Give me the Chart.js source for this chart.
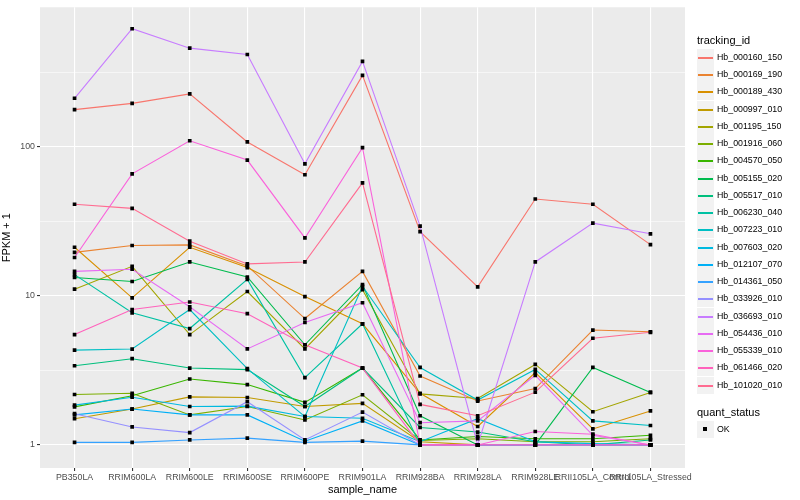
<!DOCTYPE html>
<html>
<head>
<meta charset="utf-8">
<script src="https://cdn.jsdelivr.net/npm/chart.js@4.4.0/dist/chart.umd.min.js"></script>
<style>
  body { margin: 0; background: #fff; font-family: "Liberation Sans", Arial, sans-serif; }
  #wrap { position: relative; width: 800px; height: 500px; }
  #chart { position: absolute; left: 0; top: 0; }
  #legend { position: absolute; left: 697px; top: 0; width: 103px; height: 500px; }
  .ttl { position: absolute; left: 0; font-size: 11px; line-height: 12px; color: #000; white-space: nowrap; }
  .item { position: absolute; left: 0; height: 17px; width: 103px; }
  .key { position: absolute; left: 0; top: 0; width: 17px; height: 17px; background: #f2f2f2; }
  .key i { position: absolute; left: 1px; width: 15px; top: 8px; height: 1.5px; }
  .key b { position: absolute; left: 6px; top: 6px; width: 4px; height: 4px; background: #000; }
  .lab { position: absolute; left: 20px; top: 3px; font-size: 8.8px; line-height: 11px; color: #000; white-space: nowrap; }
</style>
</head>
<body>
<div id="wrap">
  <canvas id="chart" width="800" height="500"></canvas>
  <div id="legend"></div>
</div>
<script>
// --- DATOS ---
const sampleNames = ['PB350LA', 'RRIM600LA', 'RRIM600LE', 'RRIM600SE', 'RRIM600PE', 'RRIM901LA',
  'RRIM928BA', 'RRIM928LA', 'RRIM928LE', 'RRII105LA_Control', 'RRII105LA_Stressed'];
const yTickValues = [1, 10, 100];
const yMinorValues = [3.162, 31.62, 316.2];

const hb_000160_150 = [178, 196, 227, 108, 65, 302, 27, 11.5, 44.7, 41.2, 22.1];
const hb_000169_190 = [19.6, 21.8, 22, 15.9, 7.05, 14.6, 2.9, 1.97, 2.39, 5.9, 5.75];
const hb_000189_430 = [21.2, 9.7, 21.2, 15.5, 9.9, 6.5, 2.22, 1.33, 3.06, 1.28, 1.69];
const hb_000997_010 = [1.5, 1.74, 2.1, 2.08, 1.81, 1.9, 1.05, 1.0, 1.0, 1.0, 1.0];
const hb_001195_150 = [11.1, 15.8, 5.5, 10.7, 4.41, 11.0, 2.2, 2.05, 3.47, 1.67, 2.25];
const hb_001916_060 = [2.18, 2.22, 1.59, 1.81, 1.47, 2.17, 1.07, 1.1, 1.05, 1.05, 1.1];
const hb_004570_050 = [1.8, 2.14, 2.77, 2.54, 1.93, 3.28, 1.08, 1.14, 1.1, 1.1, 1.16];
const hb_005155_020 = [13.3, 12.5, 16.9, 13.4, 4.7, 11.9, 1.57, 1.0, 1.0, 3.31, 2.25];
const hb_005517_010 = [3.4, 3.79, 3.28, 3.2, 1.81, 3.28, 1.31, 1.22, 1.05, 1.0, 1.08];
const hb_006230_040 = [13.9, 7.7, 6.04, 12.9, 2.83, 6.5, 1.0, 1.0, 1.0, 1.0, 1.0];
const hb_007223_010 = [4.33, 4.4, 8.1, 3.25, 1.55, 11.6, 3.31, 2.0, 3.21, 1.45, 1.35];
const hb_007603_020 = [1.85, 2.09, 1.81, 1.82, 1.55, 1.51, 1.05, 1.5, 1.05, 1.02, 1.0];
const hb_012107_070 = [1.59, 1.74, 1.59, 1.59, 1.06, 1.45, 1.0, 1.0, 1.0, 1.0, 1.0];
const hb_014361_050 = [1.04, 1.04, 1.08, 1.11, 1.04, 1.06, 1.0, 1.0, 1.0, 1.0, 1.0];
const hb_033926_010 = [1.62, 1.32, 1.21, 1.95, 1.08, 1.66, 1.0, 1.0, 1.0, 1.0, 1.0];
const hb_036693_010 = [212, 621, 460, 417, 77, 375, 29.4, 1.0, 16.9, 30.8, 26.1];
const hb_054436_010 = [14.6, 15.1, 8.45, 4.41, 6.64, 9.0, 1.41, 1.45, 2.93, 1.16, 1.0];
const hb_055339_010 = [18.1, 65.9, 110, 81.6, 24.5, 98.9, 1.0, 1.0, 1.23, 1.18, 1.0];
const hb_061466_020 = [5.5, 8.1, 9.1, 7.6, 4.7, 3.28, 1.0, 1.0, 1.0, 1.0, 1.0];
const hb_101020_010 = [41.2, 38.7, 23.3, 16.4, 16.9, 57.4, 1.87, 1.57, 2.26, 5.2, 5.7];

const trackingIds = ['Hb_000160_150', 'Hb_000169_190', 'Hb_000189_430', 'Hb_000997_010', 'Hb_001195_150',
  'Hb_001916_060', 'Hb_004570_050', 'Hb_005155_020', 'Hb_005517_010', 'Hb_006230_040',
  'Hb_007223_010', 'Hb_007603_020', 'Hb_012107_070', 'Hb_014361_050', 'Hb_033926_010',
  'Hb_036693_010', 'Hb_054436_010', 'Hb_055339_010', 'Hb_061466_020', 'Hb_101020_010'];
const seriesValues = [hb_000160_150, hb_000169_190, hb_000189_430, hb_000997_010, hb_001195_150,
  hb_001916_060, hb_004570_050, hb_005155_020, hb_005517_010, hb_006230_040,
  hb_007223_010, hb_007603_020, hb_012107_070, hb_014361_050, hb_033926_010,
  hb_036693_010, hb_054436_010, hb_055339_010, hb_061466_020, hb_101020_010];

// paleta hue de ggplot para 20 niveles
const lineColors = ['#F8766D', '#EA8331', '#D89000', '#C09B00', '#A3A500', '#7CAE00', '#39B600', '#00BB4E',
  '#00BF7D', '#00C1A3', '#00BFC4', '#00BAE0', '#00B0F6', '#35A2FF', '#9590FF', '#C77CFF',
  '#E76BF3', '#FA62DB', '#FF62BC', '#FF6C91'];

// --- DATASETS ---
const datasets = trackingIds.map((id, k) => ({
  label: id,
  data: seriesValues[k].map((v, i) => ({ x: i, y: v })),
  borderColor: lineColors[k],
  borderWidth: 1.1,
  pointRadius: 0,
  tension: 0,
  order: trackingIds.length - k
}));

// puntos negros (quant_status = OK) encima de todas las lineas
const allPoints = [];
seriesValues.forEach(vals => vals.forEach((v, i) => allPoints.push({ x: i, y: v })));
datasets.push({
  label: 'OK',
  data: allPoints,
  showLine: false,
  pointStyle: 'rect',
  pointRadius: 2.6,
  pointBackgroundColor: '#000',
  pointBorderWidth: 0,
  order: 0
});

const panelBg = {
  id: 'panelBg',
  beforeDraw(c) {
    const a = c.chartArea;
    c.ctx.save();
    c.ctx.fillStyle = '#ebebeb';
    c.ctx.fillRect(a.left, a.top, a.right - a.left, a.bottom - a.top);
    c.ctx.restore();
  }
};

const font = '"Liberation Sans", Arial, sans-serif';
const isMajor = v => yTickValues.includes(v);

new Chart(document.getElementById('chart'), {
  type: 'line',
  data: { datasets },
  plugins: [panelBg],
  options: {
    responsive: false,
    animation: false,
    events: [],
    layout: { padding: { left: 0, top: 5, right: 115, bottom: 0 } },
    plugins: { legend: { display: false }, tooltip: { enabled: false } },
    scales: {
      x: {
        type: 'linear',
        min: -0.6,
        max: 10.6,
        afterBuildTicks: s => { s.ticks = sampleNames.map((_, i) => ({ value: i })); },
        afterFit: s => { s.height = 32; },
        border: { display: false },
        grid: { color: '#ffffff', lineWidth: 1.1, tickColor: '#333333', tickLength: 3 },
        ticks: {
          autoSkip: false, maxRotation: 0, minRotation: 0, padding: 1,
          color: '#4d4d4d', font: { family: font, size: 8.8 },
          callback: v => sampleNames[v]
        },
        title: { display: true, text: 'sample_name', color: '#000', font: { family: font, size: 11 }, padding: { top: 1, bottom: 3 } }
      },
      y: {
        type: 'logarithmic',
        min: 0.725,
        max: 865,
        afterBuildTicks: s => {
          s.ticks = [...yTickValues, ...yMinorValues].sort((a, b) => a - b).map(v => ({ value: v }));
        },
        afterFit: s => { s.width = 40; },
        border: { display: false },
        grid: {
          color: '#ffffff',
          lineWidth: ctx => (ctx.tick && isMajor(ctx.tick.value)) ? 1.1 : 0.55,
          tickColor: ctx => (ctx.tick && isMajor(ctx.tick.value)) ? '#333333' : 'rgba(0,0,0,0)',
          tickLength: 3
        },
        ticks: {
          autoSkip: false, padding: 2,
          color: '#4d4d4d', font: { family: font, size: 8.8 },
          callback: v => isMajor(v) ? String(v) : ''
        },
        title: { display: true, text: 'FPKM + 1', color: '#000', font: { family: font, size: 11 }, padding: { top: 0, bottom: 2 } }
      }
    }
  }
});

// --- LEYENDA ---
const legend = document.getElementById('legend');
const addTitle = (text, y) => {
  const t = document.createElement('div');
  t.className = 'ttl';
  t.style.top = Math.round(y - 6) + 'px';
  t.textContent = text;
  legend.appendChild(t);
};
addTitle('tracking_id', 40);
trackingIds.forEach((id, k) => {
  const it = document.createElement('div');
  it.className = 'item';
  it.style.top = Math.round(57.3 + k * 17.26 - 8.5) + 'px';
  it.innerHTML = `<div class="key"><i style="background:${lineColors[k]}"></i></div><span class="lab">${id}</span>`;
  legend.appendChild(it);
});
addTitle('quant_status', 412);
const ok = document.createElement('div');
ok.className = 'item';
ok.style.top = Math.round(429 - 8.5) + 'px';
ok.innerHTML = '<div class="key"><b></b></div><span class="lab">OK</span>';
legend.appendChild(ok);
</script>
</body>
</html>
